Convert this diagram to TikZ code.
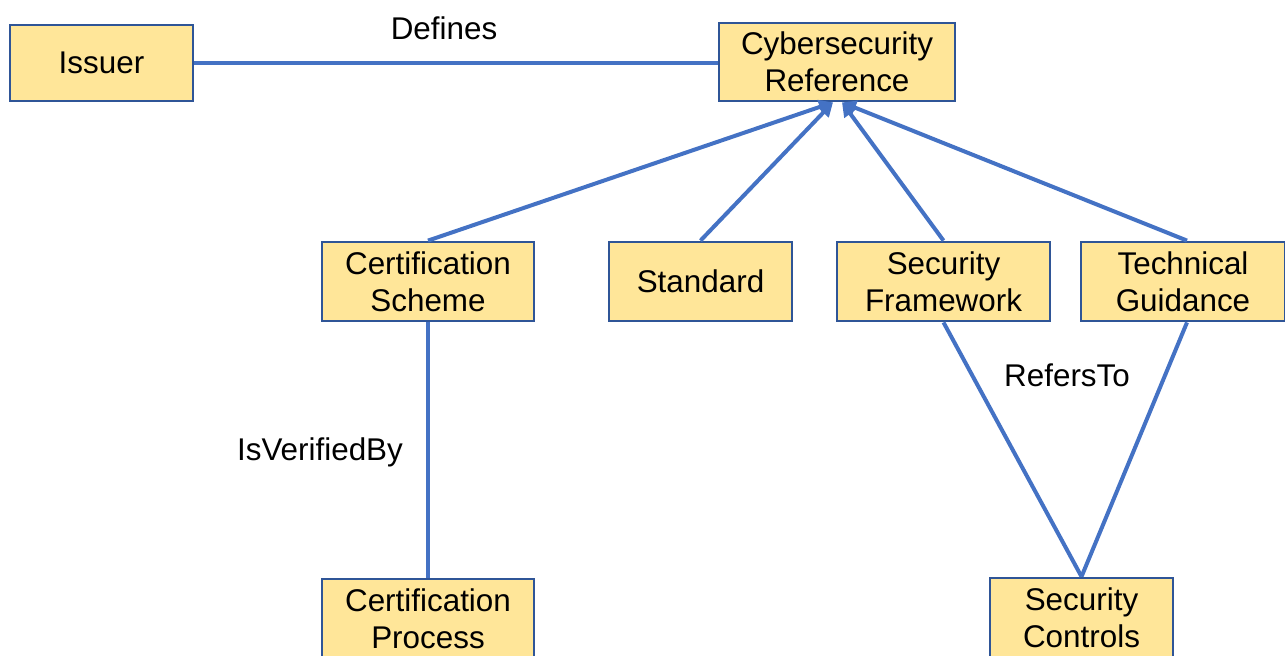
\documentclass[tikz,border=0pt]{standalone}
\usepackage{fontspec}
\setmainfont{Liberation Sans}
\usetikzlibrary{arrows.meta}
\definecolor{boxfill}{HTML}{FFE699}
\definecolor{boxdraw}{HTML}{2F5597}
\definecolor{linkcol}{HTML}{4472C4}
\begin{document}
\begin{tikzpicture}[x=0.5pt,y=-0.5pt,
  entity/.style={draw=boxdraw,fill=boxfill,line width=1.4pt,align=center,
    font=\fontsize{15.7}{18.5}\selectfont,inner sep=0pt},
  link/.style={draw=linkcol,line width=2pt},
  arr/.style={link,-{Triangle[length=7pt,width=7pt]}},
  lbl/.style={font=\fontsize{15.7}{18.5}\selectfont,inner sep=0pt}]
\useasboundingbox (0,0) rectangle (1285,655);
\begin{scope}
\clip (0,0) rectangle (1285,655);
\node[entity,minimum width=91.5pt,minimum height=38pt] (iss) at (101.5,63) {Issuer};
\node[entity,minimum width=118pt,minimum height=39pt] (cr) at (837,62) {Cybersecurity\\Reference};
\node[entity,minimum width=106pt,minimum height=39.5pt] (cs) at (428,281.5) {Certification\\Scheme};
\node[entity,minimum width=91.5pt,minimum height=39.5pt] (st) at (700.5,281.5) {Standard};
\node[entity,minimum width=106.5pt,minimum height=39.5pt] (sf) at (943.5,281.5) {Security\\Framework};
\node[entity,minimum width=102pt,minimum height=39.5pt] (tg) at (1183,281.5) {Technical\\Guidance};
\node[entity,minimum width=106pt,minimum height=39.5pt] (cp) at (428,618.5) {Certification\\Process};
\node[entity,minimum width=91.5pt,minimum height=39.5pt] (sc) at (1081.5,617.5) {Security\\Controls};

\node[lbl] (ldef) at (444,28) {Defines};
\node[lbl] (lver) at (320,452) {IsVerifiedBy};
\node[lbl] (lref) at (1067,375) {RefersTo};

\draw[link] (iss.east) -- (iss.east -| cr.west);
\draw[arr] (cs.north) -- ([xshift=-2pt]cr.south);
\draw[arr] (st.north) -- ([xshift=-2pt]cr.south);
\draw[arr] (sf.north) -- ([xshift=2.5pt]cr.south);
\draw[arr] ([xshift=2pt]tg.north) -- ([xshift=2.5pt]cr.south);
\draw[link] (cs.south) -- (cp.north);
\draw[link] (sf.south) -- (sc.north);
\draw[link] ([xshift=2pt]tg.south) -- (sc.north);
\end{scope}
\end{tikzpicture}
\end{document}
